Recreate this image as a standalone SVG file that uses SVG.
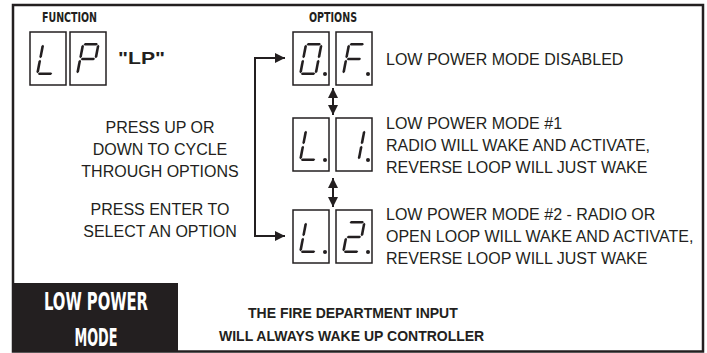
<svg xmlns="http://www.w3.org/2000/svg" width="707" height="353" viewBox="0 0 707 353">
<style>
.frame{fill:none;stroke:#231f20;stroke-width:2.5}
.box{fill:#fff;stroke:#231f20;stroke-width:1.5}
.seg{fill:#231f20}
.dot{fill:#231f20}
.t{font-family:"Liberation Sans",Arial,sans-serif;font-size:16px;fill:#231f20}
.tb{font-family:"Liberation Sans",Arial,sans-serif;font-size:14px;font-weight:bold;fill:#231f20}
.hd{font-family:"Liberation Sans Narrow","DejaVu Sans Condensed",sans-serif;font-size:14.5px;font-weight:bold;fill:#231f20}
.big{font-family:"Liberation Sans Narrow","DejaVu Sans Condensed",sans-serif;font-size:25px;font-weight:bold;fill:#fff}
.lp{font-family:"Liberation Sans",Arial,sans-serif;font-size:17px;font-weight:bold;fill:#231f20}
.conn{fill:none;stroke:#231f20;stroke-width:2}
</style>
<defs>
<marker id="ah" viewBox="0 0 10 10" refX="10" refY="5" markerUnits="userSpaceOnUse" markerWidth="10" markerHeight="10" orient="auto-start-reverse">
<path d="M0,0 L10,5 L0,10 z" fill="#231f20"/>
</marker>
<polygon id="sa" class="seg" points="1.8,1.3 3.1,0 14.9,0 16.2,1.3 14.9,2.6 3.1,2.6"/>
<polygon id="sg" class="seg" points="1.8,16 3.1,14.7 14.9,14.7 16.2,16 14.9,17.3 3.1,17.3"/>
<polygon id="sd" class="seg" points="1.8,30.7 3.1,29.4 14.9,29.4 16.2,30.7 14.9,32 3.1,32"/>
<polygon id="sf" class="seg" points="1.3,1.8 2.6,3.1 2.6,13.9 1.3,15.2 0,13.9 0,3.1"/>
<polygon id="se" class="seg" points="1.3,16.8 2.6,18.1 2.6,28.9 1.3,30.2 0,28.9 0,18.1"/>
<polygon id="sb" class="seg" points="16.7,1.8 18,3.1 18,13.9 16.7,15.2 15.4,13.9 15.4,3.1"/>
<polygon id="sc" class="seg" points="16.7,16.8 18,18.1 18,28.9 16.7,30.2 15.4,28.9 15.4,18.1"/>
</defs>

<rect class="frame" x="13" y="5" width="690" height="346.5"/>

<g id="function-header">
<text class="hd" x="42" y="22" textLength="55" lengthAdjust="spacingAndGlyphs">FUNCTION</text>
</g>
<g id="options-header">
<text class="hd" x="309" y="22" textLength="48" lengthAdjust="spacingAndGlyphs">OPTIONS</text>
</g>

<g id="function-LP">
<rect class="box" x="30" y="32" width="36" height="53"/>
<g transform="translate(42,43) skewX(-11)"><use href="#sf"/><use href="#se"/><use href="#sd"/></g>
<rect class="box" x="70" y="32" width="36" height="53"/>
<g transform="translate(82,43) skewX(-11)"><use href="#sa"/><use href="#sb"/><use href="#sf"/><use href="#sg"/><use href="#se"/></g>
<text class="lp" x="118" y="64" textLength="47" lengthAdjust="spacingAndGlyphs">"LP"</text>
</g>

<g id="option-OF">
<rect class="box" x="293" y="32" width="36" height="53"/>
<g transform="translate(305,43) skewX(-11)"><use href="#sa"/><use href="#sb"/><use href="#sc"/><use href="#sd"/><use href="#se"/><use href="#sf"/></g>
<circle class="dot" cx="325" cy="74" r="2"/>
<rect class="box" x="336" y="32" width="36" height="53"/>
<g transform="translate(348,43) skewX(-11)"><use href="#sa"/><use href="#sf"/><use href="#sg"/><use href="#se"/></g>
<circle class="dot" cx="368" cy="74" r="2"/>
<text class="t" x="386" y="65">LOW POWER MODE DISABLED</text>
</g>

<g id="option-L1">
<rect class="box" x="293" y="118" width="36" height="53"/>
<g transform="translate(305,129) skewX(-11)"><use href="#sf"/><use href="#se"/><use href="#sd"/></g>
<circle class="dot" cx="325" cy="160" r="2"/>
<rect class="box" x="336" y="118" width="36" height="53"/>
<g transform="translate(348,129) skewX(-11)"><use href="#sb"/><use href="#sc"/></g>
<circle class="dot" cx="368" cy="160" r="2"/>
<text class="t" x="386" y="129">LOW POWER MODE #1</text>
<text class="t" x="386" y="151">RADIO WILL WAKE AND ACTIVATE,</text>
<text class="t" x="386" y="173">REVERSE LOOP WILL JUST WAKE</text>
</g>

<g id="option-L2">
<rect class="box" x="293" y="210" width="36" height="53"/>
<g transform="translate(305,221) skewX(-11)"><use href="#sf"/><use href="#se"/><use href="#sd"/></g>
<circle class="dot" cx="325" cy="252" r="2"/>
<rect class="box" x="336" y="210" width="36" height="53"/>
<g transform="translate(348,221) skewX(-11)"><use href="#sa"/><use href="#sb"/><use href="#sg"/><use href="#se"/><use href="#sd"/></g>
<circle class="dot" cx="368" cy="252" r="2"/>
<text class="t" x="386" y="220">LOW POWER MODE #2 - RADIO OR</text>
<text class="t" x="386" y="242">OPEN LOOP WILL WAKE AND ACTIVATE,</text>
<text class="t" x="386" y="264">REVERSE LOOP WILL JUST WAKE</text>
</g>

<g id="instructions">
<text class="t" x="160" y="133" text-anchor="middle">PRESS UP OR</text>
<text class="t" x="160" y="155" text-anchor="middle">DOWN TO CYCLE</text>
<text class="t" x="160" y="177" text-anchor="middle">THROUGH OPTIONS</text>
<text class="t" x="160" y="215" text-anchor="middle">PRESS ENTER TO</text>
<text class="t" x="160" y="237" text-anchor="middle">SELECT AN OPTION</text>
</g>

<g id="connectors">
<path class="conn" d="M285,58 H255 V236 H285" marker-start="url(#ah)" marker-end="url(#ah)"/>
<path class="conn" d="M333,88 V115" marker-start="url(#ah)" marker-end="url(#ah)"/>
<path class="conn" d="M333,178 V207" marker-start="url(#ah)" marker-end="url(#ah)"/>
</g>

<g id="title">
<rect x="13" y="283" width="165" height="68" fill="#231f20"/>
<text class="big" x="96" y="310" text-anchor="middle" textLength="104" lengthAdjust="spacingAndGlyphs">LOW POWER</text>
<text class="big" x="96" y="346" text-anchor="middle" textLength="43" lengthAdjust="spacingAndGlyphs">MODE</text>
</g>

<g id="note">
<text class="tb" x="248" y="318">THE FIRE DEPARTMENT INPUT</text>
<text class="tb" x="219" y="341">WILL ALWAYS WAKE UP CONTROLLER</text>
</g>
</svg>
